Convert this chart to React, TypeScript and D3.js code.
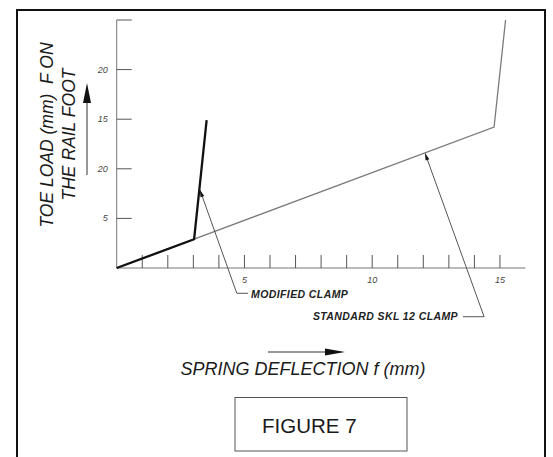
import React from "react";
import * as d3 from "d3";

// ---- data ----
const standardX = [0, 14.77, 15.22];
const standardY = [0, 14.2, 25];
const modifiedX = [0, 3.03, 3.52];
const modifiedY = [0, 2.9, 14.9];

const xMinorTicks = d3.range(1, 16);
const xTickValues = [5, 10, 15];
const xTickLabels = ["5", "10", "15"];
const yTickValues = [5, 10, 15, 20, 25];
const yTickLabels = ["5", "20", "15", "20", ""];

const seriesNames = ["MODIFIED CLAMP", "STANDARD SKL 12 CLAMP"];
// annotation leader points (data units): tip, elbow, end-x
const modifiedLeader = [[3.26, 7.86], [4.7, -2.55], [5.14, -2.55]];
const standardLeader = [[12.07, 11.56], [14.38, -4.91], [13.55, -4.91]];

const W = 553;
const H = 457;
const FONT = "'Liberation Sans', Arial, sans-serif";

const x = d3.scaleLinear().domain([0, 16]).range([116.7, 525.5]);
const y = d3.scaleLinear().domain([0, 25]).range([268, 20]);

function arrowHead(tx: number, ty: number, fx: number, fy: number, len: number, half: number) {
  const dx = tx - fx;
  const dy = ty - fy;
  const d = Math.hypot(dx, dy);
  const ux = dx / d;
  const uy = dy / d;
  const bx = tx - ux * len;
  const by = ty - uy * len;
  return `M${tx},${ty}L${bx - uy * half},${by + ux * half}L${bx + uy * half},${by - ux * half}Z`;
}

export default function App() {
  const line = d3
    .line<[number, number]>()
    .x((d) => x(d[0]))
    .y((d) => y(d[1]));
  const std = standardX.map((v, i) => [v, standardY[i]] as [number, number]);
  const mod = modifiedX.map((v, i) => [v, modifiedY[i]] as [number, number]);

  const leaderPath = (pts: number[][]) =>
    `M${x(pts[0][0])},${y(pts[0][1])}L${x(pts[1][0])},${y(pts[1][1])}L${x(pts[2][0])},${y(pts[2][1])}`;
  const leaderHead = (pts: number[][]) =>
    arrowHead(x(pts[0][0]), y(pts[0][1]), x(pts[1][0]), y(pts[1][1]), 7, 2);

  const x0 = x(0);
  const y0 = y(0);

  return (
    <svg
      width={W}
      height={H}
      style={{ position: "absolute", left: 0, top: 0, background: "#fff" }}
      fontFamily={FONT}
    >
      {/* outer frame */}
      <path d={`M17,470L17,10L545,10L545,470`} fill="none" stroke="#111" strokeWidth={2} />

      {/* axes */}
      <line x1={x0} y1={y0} x2={x(16)} y2={y0} stroke="#777" strokeWidth={1} />
      <line x1={x0} y1={y0} x2={x0} y2={y(25)} stroke="#777" strokeWidth={1} />
      {xMinorTicks.map((t) => (
        <line key={"xt" + t} x1={x(t)} x2={x(t)} y1={y0} y2={y0 - 13} stroke="#555" strokeWidth={1} />
      ))}
      {xTickValues.map((t, i) => (
        <text key={"xl" + t} x={x(t)} y={y0 + 15} fontSize={9} fontStyle="italic" fill="#444" textAnchor="middle">
          {xTickLabels[i]}
        </text>
      ))}
      {yTickValues.map((t, i) => (
        <g key={"yt" + t}>
          <line x1={x0} x2={x0 + 15} y1={y(t)} y2={y(t)} stroke="#555" strokeWidth={1} />
          <text x={x0 - 9} y={y(t) + 3} fontSize={9} fontStyle="italic" fill="#444" textAnchor="end">
            {yTickLabels[i]}
          </text>
        </g>
      ))}

      {/* series */}
      <path d={line(std) || ""} fill="none" stroke="#7a7a7a" strokeWidth={1.3} />
      <path d={line(mod) || ""} fill="none" stroke="#111" strokeWidth={2.3} strokeLinejoin="miter" />

      {/* annotations */}
      <path d={leaderPath(modifiedLeader)} fill="none" stroke="#555" strokeWidth={1} />
      <path d={leaderHead(modifiedLeader)} fill="#111" />
      <text x={251} y={297.5} fontSize={10.5} letterSpacing={0.4} fontStyle="italic" fontWeight="bold" fill="#222">
        {seriesNames[0]}
      </text>
      <path d={leaderPath(standardLeader)} fill="none" stroke="#555" strokeWidth={1} />
      <path d={leaderHead(standardLeader)} fill="#111" />
      <text x={458} y={319.5} fontSize={10.5} letterSpacing={0.4} fontStyle="italic" fontWeight="bold" fill="#222" textAnchor="end">
        {seriesNames[1]}
      </text>

      {/* y axis title */}
      <g transform="translate(53,135) rotate(-90)">
        <text x={0} y={0} fontSize={17.5} fontStyle="italic" fill="#1a1a1a" textAnchor="middle" style={{ whiteSpace: "pre" }}>
          {"TOE LOAD (mm)  F ON"}
        </text>
      </g>
      <g transform="translate(75,134.5) rotate(-90)">
        <text x={0} y={0} fontSize={17.5} fontStyle="italic" fill="#1a1a1a" textAnchor="middle">
          THE RAIL FOOT
        </text>
      </g>
      <line x1={87} y1={175} x2={87} y2={100} stroke="#333" strokeWidth={1} />
      <path d={arrowHead(87, 83, 87, 175, 20, 4)} fill="#111" />

      {/* x axis title */}
      <line x1={268} y1={352} x2={330} y2={352} stroke="#333" strokeWidth={1} />
      <path d={arrowHead(345, 352, 268, 352, 20, 3.5)} fill="#111" />
      <text x={303} y={375} fontSize={18} fontStyle="italic" fill="#1a1a1a" textAnchor="middle">
        SPRING DEFLECTION f (mm)
      </text>

      {/* figure caption */}
      <rect x={235} y={397.5} width={172} height={53.5} fill="none" stroke="#555" strokeWidth={1} />
      <text x={262} y={433} fontSize={20.5} fill="#1a1a1a">
        FIGURE 7
      </text>
    </svg>
  );
}
